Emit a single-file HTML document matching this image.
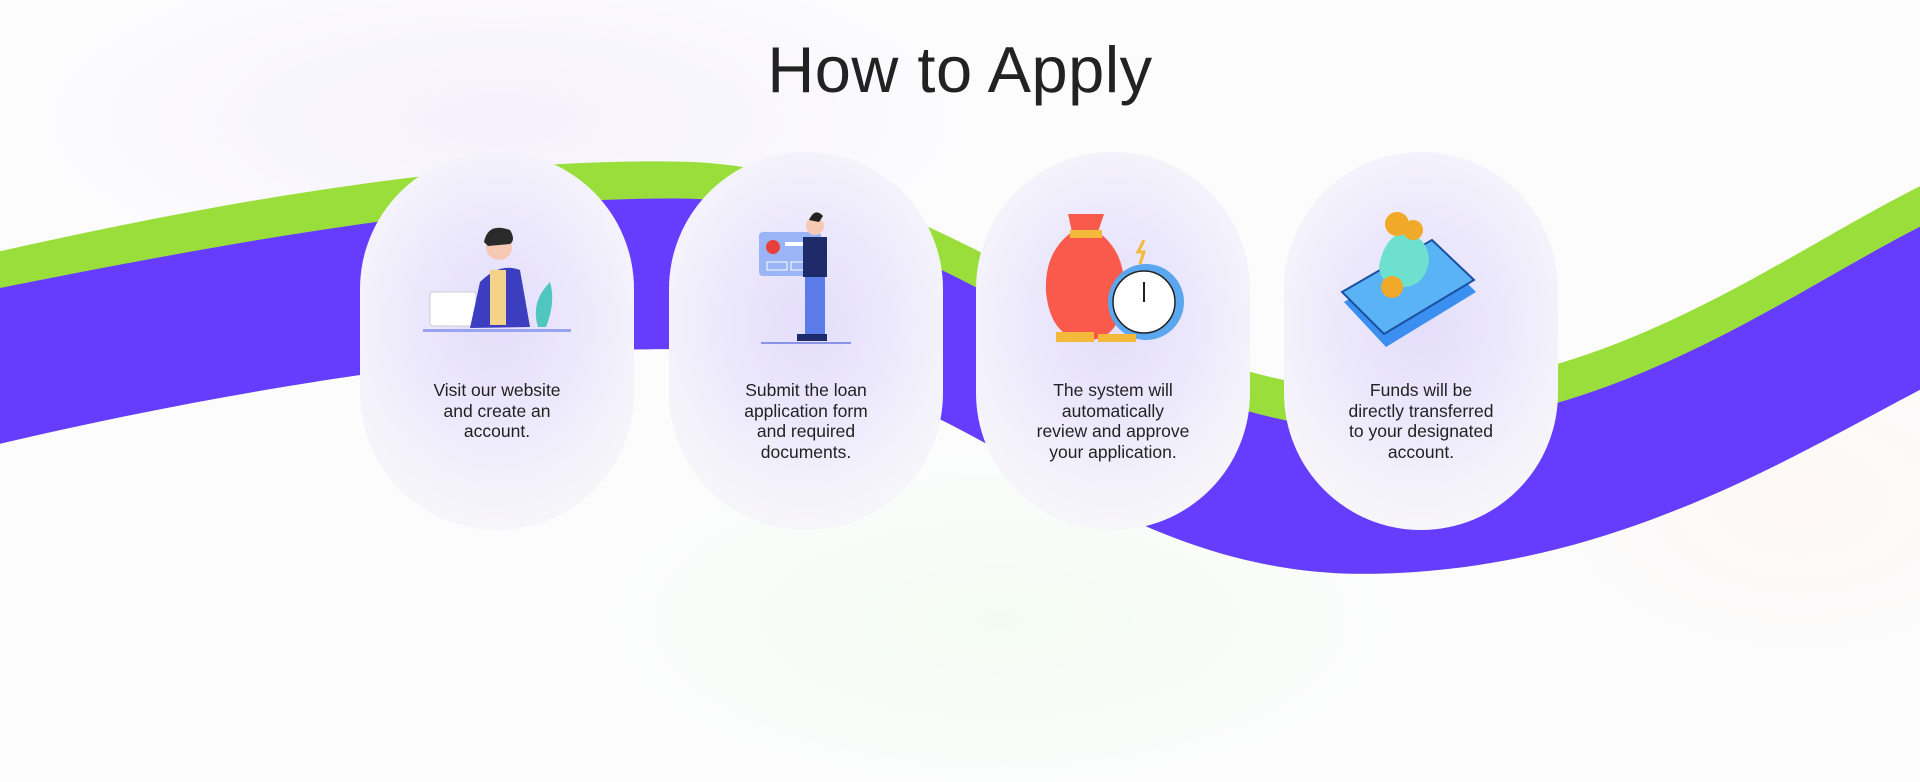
<!DOCTYPE html>
<html><head><meta charset="utf-8"><style>
html,body{margin:0;padding:0}
body{width:1920px;height:782px;position:relative;overflow:hidden;font-family:"Liberation Sans",sans-serif;
background:radial-gradient(ellipse 700px 250px at 500px 120px,#f5f1fd,rgba(255,255,255,0) 70%),radial-gradient(ellipse 600px 250px at 1000px 620px,#f4fcf2,rgba(255,255,255,0) 70%),radial-gradient(ellipse 400px 250px at 1800px 500px,#fdf8f5,rgba(255,255,255,0) 70%),#fcfcfd;}
h1{position:absolute;top:30px;left:0;width:1920px;text-align:center;margin:0;font-weight:400;font-size:65px;line-height:80px;color:#222;letter-spacing:0.5px}
svg.w{position:absolute;left:0;top:0}
.card{position:absolute;top:152px;width:274px;height:378px;border-radius:137px;
background:radial-gradient(ellipse 190px 230px at 50% 45%,#e4defb 0%,#ebe7fc 40%,#f3f1fb 70%,#f8f8f9 100%);}
.card .t{position:absolute;left:0;right:0;top:228px;text-align:center;font-size:17.5px;line-height:20.7px;color:#222}
.card svg{position:absolute;left:0;top:0}
</style></head><body>
<svg class="w" width="1920" height="782" viewBox="0 0 1568 638" preserveAspectRatio="none">
<path fill="#9ade3b" d="M0,205 C200,160 400,128 560,132 C760,138 900,300 1100,318 C1300,330 1450,210 1568,152 L1568,318 C1450,380 1300,472 1100,468 C880,460 780,290 560,285 C420,282 200,315 0,362 Z"/>
<path fill="#663cff" d="M0,235 C200,195 400,160 560,162 C760,165 900,335 1100,350 C1300,360 1450,245 1568,185 L1568,318 C1450,380 1300,472 1100,468 C880,460 780,290 560,285 C420,282 200,315 0,362 Z"/>
</svg>
<h1>How to Apply</h1>

<div class="card" style="left:360px">
<svg width="274" height="378">
<rect x="63" y="177" width="148" height="3" fill="#9aa3f0"/>
<rect x="70" y="140" width="46" height="34" rx="3" fill="#fff" stroke="#ccc"/>
<path d="M120,130 Q140,110 160,118 L170,175 L110,176 Z" fill="#3b3fbf"/>
<rect x="130" y="118" width="16" height="55" fill="#f4d28a"/>
<circle cx="139" cy="95" r="13" fill="#f6c9b5"/>
<path d="M124,90 Q128,70 150,78 Q156,88 150,92 L128,94 Z" fill="#2a2a2a"/>
<path d="M178,175 Q170,150 190,130 Q196,150 186,175 Z" fill="#4fc7c0"/>
</svg>
<div class="t">Visit our website<br>and create an<br>account.</div>
</div>

<div class="card" style="left:669px">
<svg width="274" height="378">
<rect x="92" y="190" width="90" height="2" fill="#8a93e8"/>
<rect x="90" y="80" width="62" height="44" rx="4" fill="#9ab4f5"/>
<circle cx="104" cy="95" r="7" fill="#e8403a"/>
<rect x="116" y="90" width="20" height="4" fill="#fff"/>
<rect x="98" y="110" width="20" height="8" fill="none" stroke="#fff"/>
<rect x="122" y="110" width="20" height="8" fill="none" stroke="#fff"/>
<rect x="134" y="85" width="24" height="40" fill="#1f2a6b"/>
<rect x="136" y="125" width="20" height="60" fill="#5b7be8"/>
<circle cx="146" cy="74" r="9" fill="#f6c9b5"/>
<path d="M140,68 Q146,55 154,64 L150,70 Z" fill="#222"/>
<rect x="128" y="182" width="30" height="7" fill="#1f2a6b"/>
</svg>
<div class="t">Submit the loan<br>application form<br>and required<br>documents.</div>
</div>

<div class="card" style="left:976px">
<svg width="274" height="378">
<path d="M92,62 L128,62 L122,80 Q150,100 148,140 Q146,185 115,188 Q75,190 70,140 Q68,100 96,80 Z" fill="#f95a4b"/>
<rect x="94" y="78" width="32" height="8" fill="#f4b93b"/>
<circle cx="170" cy="150" r="38" fill="#5aa6ef"/>
<circle cx="168" cy="150" r="31" fill="#fff" stroke="#222" stroke-width="1.5"/>
<line x1="168" y1="150" x2="168" y2="130" stroke="#222" stroke-width="2"/>
<path d="M168,88 l-6,12 l6,0 l-4,12" stroke="#f4b93b" stroke-width="3" fill="none"/>
<rect x="80" y="180" width="38" height="10" fill="#f4b93b"/>
<rect x="122" y="182" width="38" height="8" fill="#f4b93b"/>
</svg>
<div class="t">The system will<br>automatically<br>review and approve<br>your application.</div>
</div>

<div class="card" style="left:1284px">
<svg width="274" height="378">
<path d="M60,150 L150,98 L192,140 L102,195 Z" fill="#3a8ff0"/>
<path d="M58,140 L148,88 L190,128 L100,182 Z" fill="#59b3f5" stroke="#1b4fa0" stroke-width="2"/>
<path d="M95,115 Q100,85 120,80 Q145,85 145,110 Q140,135 118,135 Q97,135 95,115 Z" fill="#6ee0cf"/>
<circle cx="113" cy="72" r="12" fill="#f0a928"/>
<circle cx="129" cy="78" r="10" fill="#f0a928"/>
<circle cx="108" cy="135" r="11" fill="#f0a928"/>
</svg>
<div class="t">Funds will be<br>directly transferred<br>to your designated<br>account.</div>
</div>
</body></html>
